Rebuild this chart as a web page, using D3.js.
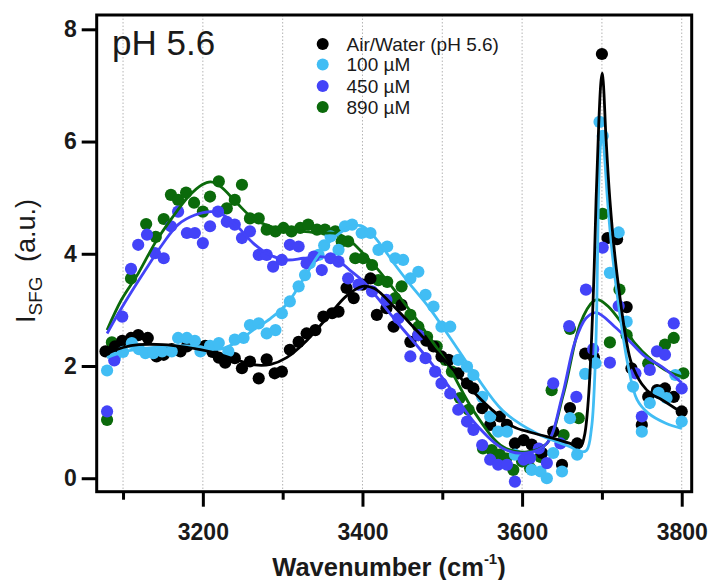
<!DOCTYPE html>
<html>
<head>
<meta charset="utf-8">
<script src="https://cdn.jsdelivr.net/npm/d3@7"></script>
<style>
  html, body { margin: 0; padding: 0; background: #fff; }
  svg { display: block; font-family: "Liberation Sans", Arial, sans-serif; }
</style>
</head>
<body>
<svg id="chart" width="712" height="580"></svg>
<script>
// ---------------- DATA ----------------
const seriesNames = ["Air/Water (pH 5.6)", "100 µM", "450 µM", "890 µM"];
const seriesColors = ["#000000", "#41bdf4", "#4343f8", "#0b6a0b"];

// measured points [wavenumber, intensity]
const water = [[3078,2.26],[3090,2.35],[3099,2.45],[3110,2.50],[3119,2.55],[3131,2.50],[3142,2.17],[3151,2.20],[3161,2.30],[3172,2.26],[3180,2.35],[3190,2.41],[3203,2.36],[3212,2.25],[3220,2.15],[3228,2.06],[3240,2.14],[3249,1.96],[3259,2.08],[3270,1.78],[3280,2.12],[3290,1.87],[3299,1.90],[3309,2.29],[3320,2.43],[3330,2.58],[3341,2.64],[3351,2.88],[3362,2.94],[3370,2.97],[3380,3.39],[3389,3.21],[3400,3.45],[3410,3.56],[3418,2.91],[3430,3.03],[3439,2.70],[3449,3.09],[3460,2.43],[3470,2.55],[3480,2.45],[3489,2.35],[3499,2.17],[3508,2.11],[3520,1.87],[3531,1.69],[3539,1.60],[3550,1.25],[3560,0.95],[3572,1.10],[3581,0.95],[3591,0.62],[3602,0.68],[3612,0.60],[3625,0.45],[3639,0.83],[3650,0.24],[3660,1.25],[3669,0.62],[3679,2.22],[3690,2.15],[3700,7.56],[3707,4.28],[3719,4.26],[3731,3.05],[3737,1.96],[3750,0.95],[3758,1.45],[3769,1.57],[3779,1.60],[3790,1.45],[3800,1.19]];

const uM100 = [[3080,1.92],[3090,2.15],[3100,2.25],[3111,2.41],[3120,2.30],[3128,2.23],[3138,2.23],[3149,2.26],[3161,2.26],[3169,2.50],[3180,2.50],[3190,2.45],[3197,2.26],[3209,2.36],[3220,2.41],[3232,2.26],[3240,2.47],[3251,2.50],[3259,2.73],[3270,2.76],[3280,2.58],[3291,2.64],[3299,2.94],[3309,3.15],[3320,3.42],[3328,3.62],[3334,3.83],[3345,3.98],[3352,4.15],[3360,4.31],[3370,4.07],[3378,4.49],[3387,4.52],[3399,4.37],[3410,4.37],[3420,4.07],[3431,4.13],[3441,3.92],[3451,3.89],[3460,3.56],[3470,3.68],[3479,3.27],[3489,3.06],[3499,2.70],[3510,2.70],[3520,2.11],[3531,1.99],[3539,1.84],[3550,1.45],[3560,1.10],[3570,0.83],[3581,0.83],[3591,0.42],[3602,0.38],[3612,0.15],[3623,0.12],[3631,0.00],[3639,0.45],[3650,0.12],[3660,1.07],[3669,0.42],[3679,1.86],[3692,2.05],[3697,6.35],[3701,6.10],[3710,3.66],[3721,4.38],[3731,2.79],[3739,1.63],[3750,0.83],[3760,1.34],[3771,1.52],[3781,1.43],[3792,1.84],[3800,1.01]];

const uM450 = [[3080,1.19],[3089,2.10],[3099,2.88],[3110,3.73],[3119,4.16],[3130,4.34],[3140,4.01],[3151,3.92],[3160,4.49],[3169,4.75],[3180,4.37],[3190,4.37],[3200,4.19],[3209,4.49],[3219,4.75],[3230,4.57],[3240,4.52],[3249,4.28],[3259,4.40],[3270,3.98],[3280,3.98],[3288,3.77],[3299,3.89],[3309,4.16],[3320,4.13],[3330,3.83],[3339,3.95],[3349,3.71],[3360,3.92],[3370,3.86],[3382,3.56],[3395,3.45],[3412,3.33],[3430,3.18],[3445,2.85],[3460,2.17],[3470,2.55],[3479,2.14],[3491,1.90],[3499,1.69],[3510,1.51],[3520,1.22],[3531,1.01],[3539,0.86],[3550,0.59],[3560,0.33],[3570,0.24],[3581,0.24],[3591,-0.06],[3602,0.33],[3610,0.36],[3621,0.53],[3631,0.27],[3639,1.69],[3648,0.62],[3659,2.71],[3668,1.45],[3680,3.36],[3689,2.30],[3701,4.11],[3710,2.06],[3721,3.07],[3742,1.87],[3750,1.10],[3760,1.93],[3769,2.26],[3779,2.20],[3790,2.76],[3800,1.60]];

const uM890 = [[3080,1.04],[3086,2.42],[3110,3.56],[3129,4.53],[3141,4.30],[3151,4.62],[3160,5.05],[3169,4.96],[3179,5.09],[3189,4.91],[3200,4.75],[3209,5.02],[3220,5.29],[3230,4.81],[3240,4.96],[3249,5.23],[3259,4.63],[3270,4.63],[3280,4.43],[3291,4.40],[3301,4.46],[3311,4.40],[3322,4.46],[3332,4.52],[3343,4.43],[3353,4.43],[3366,4.40],[3374,4.22],[3382,4.22],[3391,3.92],[3401,3.92],[3412,3.80],[3420,3.53],[3431,3.50],[3441,3.21],[3449,3.42],[3460,2.91],[3470,2.70],[3481,2.52],[3493,2.35],[3504,2.11],[3512,1.90],[3522,1.43],[3533,1.22],[3551,0.53],[3562,0.50],[3572,0.42],[3580,0.35],[3589,0.15],[3600,0.30],[3610,0.18],[3623,0.38],[3637,1.57],[3652,0.77],[3660,2.66],[3671,1.07],[3701,4.71],[3710,2.42],[3722,3.36],[3731,2.55],[3758,2.05],[3779,2.38],[3790,2.50],[3802,1.87]];

// fitted curves [wavenumber, intensity]
const waterFit = [[3080,2.22],[3100,2.33],[3120,2.38],[3150,2.38],[3180,2.33],[3210,2.25],[3240,2.12],[3265,2.02],[3285,2.03],[3305,2.15],[3330,2.45],[3355,2.85],[3380,3.25],[3400,3.42],[3415,3.38],[3440,3.05],[3470,2.60],[3500,2.15],[3535,1.60],[3560,1.25],[3589,0.92],[3610,0.82],[3631,0.74],[3660,0.62],[3673,0.56],[3678,0.75],[3683,1.40],[3689,3.18],[3692.7,4.96],[3696,6.30],[3699,7.10],[3700.5,7.22],[3702,7.00],[3705,6.10],[3710,4.96],[3716,4.00],[3723,3.18],[3730,2.50],[3737,2.05],[3750,1.68],[3762,1.50],[3775,1.40],[3800,1.17]];

const uM100Fit = [[3080,2.15],[3100,2.25],[3130,2.32],[3160,2.36],[3190,2.35],[3222,2.30],[3245,2.45],[3263,2.64],[3285,2.85],[3305,3.10],[3326,3.55],[3347,4.02],[3368,4.33],[3385,4.48],[3398,4.50],[3410,4.38],[3425,4.12],[3441,3.80],[3460,3.45],[3483,3.05],[3510,2.50],[3541,1.85],[3576,1.20],[3618,0.80],[3660,0.56],[3673,0.47],[3681,0.50],[3687,0.90],[3691,1.80],[3693.5,3.00],[3695.6,4.96],[3698,5.90],[3700.5,6.15],[3703,5.80],[3707,4.96],[3713,4.00],[3720,3.18],[3733,1.99],[3744,1.40],[3758,1.16],[3780,0.98],[3800,0.89]];

const uM450Fit = [[3080,2.58],[3098,3.03],[3128,3.71],[3149,4.16],[3169,4.52],[3190,4.69],[3210,4.75],[3222,4.72],[3243,4.49],[3263,4.19],[3284,3.98],[3305,3.89],[3326,3.92],[3347,3.95],[3368,3.89],[3384,3.71],[3403,3.48],[3441,2.82],[3483,2.11],[3510,1.60],[3541,0.98],[3576,0.53],[3606,0.45],[3631,0.62],[3650,1.45],[3666,2.42],[3680,2.85],[3693,2.95],[3716,2.70],[3733,2.47],[3754,2.17],[3775,1.99],[3800,1.70]];

const uM890Fit = [[3080,2.64],[3098,3.18],[3119,3.65],[3140,4.19],[3161,4.63],[3182,5.02],[3199,5.23],[3210,5.28],[3222,5.20],[3243,4.90],[3263,4.63],[3284,4.49],[3305,4.43],[3326,4.40],[3347,4.37],[3368,4.36],[3384,4.24],[3400,4.02],[3420,3.71],[3462,2.94],[3503,2.11],[3541,1.16],[3576,0.56],[3606,0.47],[3631,0.62],[3652,1.51],[3673,2.76],[3689,3.15],[3696,3.18],[3708,3.06],[3725,2.76],[3741,2.41],[3762,2.11],[3783,1.90],[3800,1.81]];

const xMajorTicks = [3200, 3400, 3600, 3800];
const xMinorTicks = [3100, 3300, 3500, 3700];
const gridTicks = [3100, 3200, 3300, 3400, 3500, 3600, 3700, 3800];
const yTicks = [0, 2, 4, 6, 8];

// ---------------- LAYOUT ----------------
const svg = d3.select("#chart");
const plot = { left: 96.7, right: 691.7, top: 15, bottom: 491.7 };

const x = d3.scaleLinear().domain([3067, 3812.5]).range([plot.left, plot.right]);
const y = d3.scaleLinear().domain([-0.24, 8.255]).range([plot.bottom, plot.top]);

svg.append("rect").attr("width", 712).attr("height", 580).attr("fill", "#fff");

// grid lines
svg.append("g").selectAll("line").data(gridTicks).join("line")
  .attr("x1", d => x(d)).attr("x2", d => x(d))
  .attr("y1", plot.top).attr("y2", plot.bottom)
  .attr("stroke", "#b4b4b4").attr("stroke-width", 1)
  .attr("stroke-dasharray", "1.5,2");

// clip
svg.append("clipPath").attr("id", "clip").append("rect")
  .attr("x", plot.left).attr("y", plot.top)
  .attr("width", plot.right - plot.left).attr("height", plot.bottom - plot.top);

const dataSets = [water, uM100, uM450, uM890];
const fitSets = [waterFit, uM100Fit, uM450Fit, uM890Fit];

// markers (drawing order: 890, water, 100, 450)
const markerOrder = [3, 0, 1, 2];
const gPts = svg.append("g").attr("clip-path", "url(#clip)");
markerOrder.forEach(i => {
  gPts.append("g").selectAll("circle").data(dataSets[i]).join("circle")
    .attr("cx", d => x(d[0])).attr("cy", d => y(d[1]))
    .attr("r", 6.1).attr("fill", seriesColors[i]);
});

// fit lines
const line = d3.line().x(d => x(d[0])).y(d => y(d[1])).curve(d3.curveCatmullRom.alpha(0.5));
const lineOrder = [3, 2, 1, 0];
const gLines = svg.append("g").attr("clip-path", "url(#clip)");
lineOrder.forEach(i => {
  gLines.append("path").datum(fitSets[i]).attr("d", line)
    .attr("fill", "none").attr("stroke", seriesColors[i])
    .attr("stroke-width", 2.8).attr("stroke-linejoin", "round");
});

// frame
svg.append("rect")
  .attr("x", plot.left).attr("y", plot.top)
  .attr("width", plot.right - plot.left).attr("height", plot.bottom - plot.top)
  .attr("fill", "none").attr("stroke", "#000").attr("stroke-width", 3);

// x axis
const gxMaj = svg.append("g").attr("transform", `translate(0,${plot.bottom})`)
  .call(d3.axisBottom(x).tickValues(xMajorTicks).tickSize(15).tickPadding(17).tickFormat(d3.format("d")));
const gxMin = svg.append("g").attr("transform", `translate(0,${plot.bottom})`)
  .call(d3.axisBottom(x).tickValues(xMinorTicks).tickSize(8).tickFormat(""));
// y axis
const gy = svg.append("g").attr("transform", `translate(${plot.left},0)`)
  .call(d3.axisLeft(y).tickValues(yTicks).tickSize(15).tickPadding(5).tickFormat(d3.format("d")));

[gxMaj, gxMin, gy].forEach(g => {
  g.select(".domain").remove();
  g.selectAll(".tick line").attr("stroke", "#000").attr("stroke-width", 3);
  g.selectAll(".tick text")
    .attr("font-family", "'Liberation Sans', Arial, sans-serif")
    .attr("font-size", 23).attr("font-weight", "bold").attr("fill", "#1a1a1a");
});

// axis titles
const xt = svg.append("text")
  .attr("x", 389).attr("y", 576).attr("text-anchor", "middle")
  .attr("font-size", 25.5).attr("font-weight", "bold").attr("fill", "#1a1a1a");
xt.append("tspan").text("Wavenumber (cm");
xt.append("tspan").attr("font-size", 15).attr("dy", -12).text("-1");
xt.append("tspan").attr("dy", 12).text(")");

const yt = svg.append("text")
  .attr("transform", "translate(35,261) rotate(-90)")
  .attr("text-anchor", "middle").attr("font-size", 27).attr("fill", "#1a1a1a");
yt.append("tspan").text("I");
yt.append("tspan").attr("font-size", 19).attr("dy", 7).text("SFG");
yt.append("tspan").attr("dy", -7).attr("dx", 7).text(" (a.u.)");

// panel label
svg.append("text").attr("x", 112).attr("y", 55)
  .attr("font-size", 35).attr("fill", "#1a1a1a").text("pH 5.6");

// legend
const leg = svg.append("g");
const legY = [44, 64.5, 86, 107];
seriesNames.forEach((n, i) => {
  leg.append("circle").attr("cx", 322.7).attr("cy", legY[i]).attr("r", 6).attr("fill", seriesColors[i]);
  leg.append("text").attr("x", 346.5).attr("y", legY[i]).attr("dy", "0.35em")
    .attr("font-size", 19).attr("fill", "#1a1a1a").text(n);
});
</script>
</body>
</html>
